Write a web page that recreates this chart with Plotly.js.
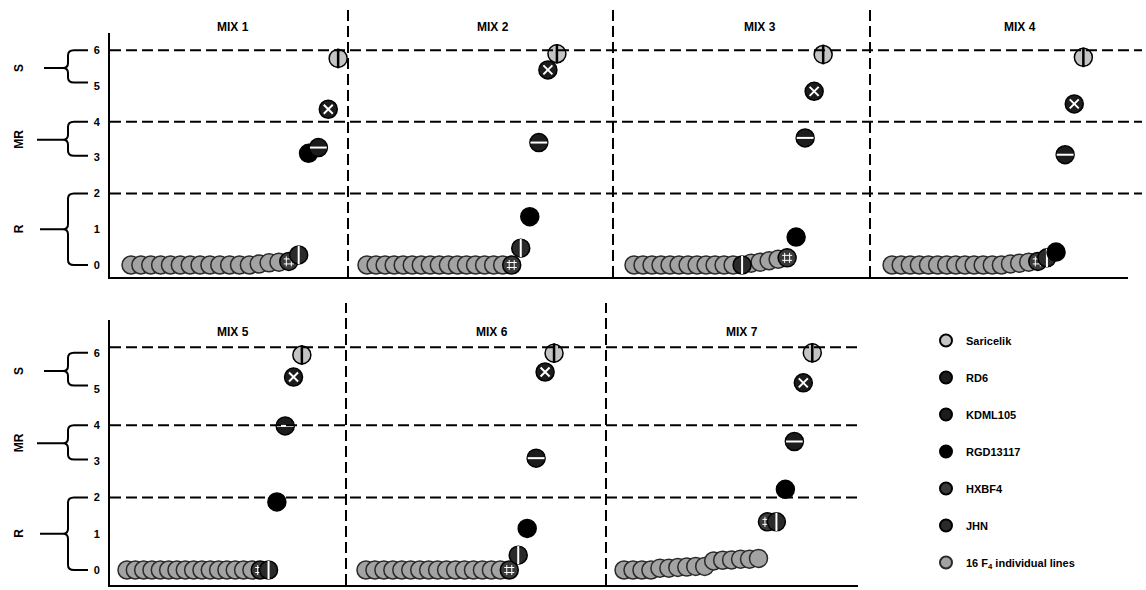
<!DOCTYPE html>
<html>
<head>
<meta charset="utf-8">
<script src="https://cdn.plot.ly/plotly-3.0.1.min.js"></script>
<style>html,body{margin:0;padding:0;background:#fff;}#chart{width:1146px;height:590px;}</style>
</head>
<body>
<div id="chart"></div>
<script>
// ---------------- DATA ----------------
const mixNames = ['MIX 1', 'MIX 2', 'MIX 3', 'MIX 4', 'MIX 5', 'MIX 6', 'MIX 7'];
const scoreTicks = [0, 1, 2, 3, 4, 5, 6];
const classNames = ['S', 'MR', 'R'];
const classLow = [5, 3, 0];
const classHigh = [6, 4, 2];

// disease scores of the parents in each mix
const saricelik = [5.77, 5.90, 5.88, 5.80, 5.94, 5.99, 6.00];
const rd6       = [4.35, 5.45, 4.85, 4.50, 5.33, 5.47, 5.17];
const kdml105   = [3.28, 3.42, 3.55, 3.08, 3.98, 3.09, 3.55];
const rgd13117  = [3.12, 1.35, 0.78, 0.36, 1.88, 1.15, 2.23];
const hxbf4     = [0.10, 0.00, 0.20, 0.10, 0.00, 0.00, 1.33];
const jhn       = [0.28, 0.47, 0.00, 0.20, 0.00, 0.41, 1.33];

// rank (position along x) of the parents in each mix
const rankSaricelik = [22, 22, 22, 22, 22, 22, 22];
const rankRd6       = [21, 21, 21, 21, 21, 21, 21];
const rankKdml105   = [20, 20, 20, 20, 20, 20, 20];
const rankRgd13117  = [19, 19, 19, 19, 19, 19, 19];
const rankHxbf4     = [17, 17, 18, 17, 17, 17, 17];
const rankJhn       = [18, 18, 13, 18, 18, 18, 18];

// scores of the 16 F4 individual lines in each mix (sorted)
const f4Mix1 = [0,0,0,0,0,0,0,0,0,0,0,0,0,0.03,0.06,0.08];
const f4Mix2 = [0,0,0,0,0,0,0,0,0,0,0,0,0,0,0,0];
const f4Mix3 = [0,0,0,0,0,0,0,0,0,0,0,0,0.05,0.08,0.12,0.16];
const f4Mix4 = [0,0,0,0,0,0,0,0,0,0,0,0,0,0.03,0.05,0.08];
const f4Mix5 = [0,0,0,0,0,0,0,0,0,0,0,0,0,0,0,0];
const f4Mix6 = [0,0,0,0,0,0,0,0,0,0,0,0,0,0,0,0];
const f4Mix7 = [0,0,0,0,0.05,0.05,0.07,0.08,0.10,0.10,0.25,0.27,0.28,0.30,0.30,0.32];
const f4Scores = [f4Mix1, f4Mix2, f4Mix3, f4Mix4, f4Mix5, f4Mix6, f4Mix7];

// ---------------- LAYOUT GEOMETRY ----------------
const W = 1146, H = 590;
const M = {l: 110, r: 18, t: 5, b: 5};
const PW = W - M.l - M.r, PH = H - M.t - M.b;
const px = x => (x - M.l) / PW;
const py = y => (H - M.b - y) / PH;

const panelPx = [[110,348],[348,613],[613,870],[870,1128],[110,346],[346,606],[606,858]];
const panelRange = [[-1.13,23.0],[-1.1,28.2],[-1.33,27.2],[-1.42,26.9],[-1.04,27.3],[-1.23,27.8],[-1.01,27.1]];
const titlePx = [[233,27],[493,27],[760,27],[1020,27],[233,332],[492,332],[742,332]];
const rowY = [{top:33,bot:277,range:[-0.335,6.48],divTop:6,gridTop:6,lineEnd:1142,rowEnd:1128},
              {top:320,bot:585,range:[-0.414,6.906],divTop:303,gridTop:6.15,lineEnd:862,rowEnd:858}];

const FONT = 'Liberation Sans, Arial, sans-serif';
const LINE = '#000';

const series = [
  {name:'<b>16 F<sub>4</sub> individual lines</b>', key:'f4', fill:'#a3a3a3', lc:'#2a2a2a', rank:7, ov:null},
  {name:'<b>HXBF4</b>', key:'hx', vals:hxbf4, ranks:rankHxbf4, fill:'#3a3a3a', lc:'#000', rank:5, ov:{symbol:'hash-open', color:'#fff', size:10, width:1}},
  {name:'<b>JHN</b>', key:'jhn', vals:jhn, ranks:rankJhn, fill:'#2a2a2a', lc:'#000', rank:6, ov:{symbol:'line-ns-open', color:'#fff', size:13, width:2}},
  {name:'<b>RGD13117</b>', key:'rgd', vals:rgd13117, ranks:rankRgd13117, fill:'#000', lc:'#000', rank:4, ov:null},
  {name:'<b>KDML105</b>', key:'kd', vals:kdml105, ranks:rankKdml105, fill:'#1c1c1c', lc:'#000', rank:3, ov:{symbol:'line-ew-open', color:'#fff', size:12, width:2}},
  {name:'<b>RD6</b>', key:'rd6', vals:rd6, ranks:rankRd6, fill:'#1c1c1c', lc:'#000', rank:2, ov:{symbol:'x-thin-open', color:'#fff', size:9, width:2}},
  {name:'<b>Saricelik</b>', key:'sar', vals:saricelik, ranks:rankSaricelik, fill:'#c4c4c4', lc:'#000', rank:1, ov:{symbol:'line-ns-open', color:'#000', size:14, width:2.5}}
];

const traces = [];
mixNames.forEach((mix, i) => {
  const xa = i === 0 ? 'x' : 'x' + (i + 1);
  const ya = i < 4 ? 'y' : 'y2';
  // ranks used by parents
  const used = series.filter(s => s.vals).map(s => s.ranks[i]);
  const free = [];
  for (let r = 1; r <= 22; r++) if (!used.includes(r)) free.push(r);
  series.forEach(s => {
    let xs, ys;
    if (s.key === 'f4') { xs = free.slice(0, f4Scores[i].length); ys = f4Scores[i]; }
    else { xs = [s.ranks[i]]; ys = [s.vals[i]]; }
    traces.push({
      type:'scatter', mode:'markers', x:xs, y:ys, xaxis:xa, yaxis:ya,
      name:s.name, legendgroup:s.key, showlegend:i === 0, legendrank:s.rank,
      cliponaxis:false, hoverinfo:'x+y',
      marker:{symbol:'circle', size:18, color:s.fill, line:{color:s.lc, width:1.5}}
    });
    if (s.ov) {
      traces.push({
        type:'scatter', mode:'markers', x:xs, y:ys, xaxis:xa, yaxis:ya,
        legendgroup:s.key, showlegend:false, cliponaxis:false, hoverinfo:'skip',
        marker:{symbol:s.ov.symbol, size:s.ov.size, color:s.ov.color, line:{color:s.ov.color, width:s.ov.width}}
      });
    }
  });
});

const layout = {
  width:W, height:H, margin:M, paper_bgcolor:'#fff', plot_bgcolor:'rgba(0,0,0,0)',
  font:{family:FONT, color:'#000', size:11},
  showlegend:true,
  legend:{x:px(926), y:py(326), xanchor:'left', yanchor:'top', bgcolor:'rgba(0,0,0,0)',
          font:{family:FONT, size:11, color:'#000'}, tracegroupgap:18, itemsizing:'constant'},
  shapes:[], annotations:[]
};

// y axes
[0,1].forEach(r => {
  const R = rowY[r];
  const key = r === 0 ? 'yaxis' : 'yaxis2';
  layout[key] = {
    domain:[py(R.bot), py(R.top)], range:R.range, anchor: r === 0 ? 'x' : 'x5',
    showgrid:false, zeroline:false, showline:true, linecolor:LINE, linewidth:2,
    tickvals:scoreTicks, ticktext:scoreTicks.map(v => '<b>' + v + '</b>'),
    ticks:'', ticklabelstandoff:6, tickfont:{family:FONT, size:11, color:'#000'}
  };
});

// x axes
mixNames.forEach((mix, i) => {
  const key = i === 0 ? 'xaxis' : 'xaxis' + (i + 1);
  const p = panelPx[i];
  layout[key] = {
    domain:[px(p[0]), px(p[1])], range:panelRange[i], anchor: i < 4 ? 'y' : 'y2',
    showgrid:false, zeroline:false, showline:true, linecolor:LINE, linewidth:2,
    showticklabels:false, ticks:''
  };
  layout.annotations.push({
    text:'<b>' + mix + '</b>', xref:'paper', yref:'paper', x:px(titlePx[i][0]), y:py(titlePx[i][1]),
    showarrow:false, font:{family:FONT, size:12, color:'#000'}, xanchor:'center', yanchor:'middle'
  });
});

const DASH = '11px,5px';
// vertical dividers
[[348,0],[613,0],[870,0],[346,1],[606,1]].forEach(([x, r]) => {
  const R = rowY[r];
  layout.shapes.push({type:'line', xref:'paper', yref:'paper', x0:px(x), x1:px(x),
    y0:py(R.bot), y1:py(R.divTop), line:{color:LINE, width:2, dash:DASH}});
});

// horizontal class boundaries + braces
[0,1].forEach(r => {
  const R = rowY[r];
  const yref = r === 0 ? 'y' : 'y2';
  [2, 4, R.gridTop].forEach(v => {
    layout.shapes.push({type:'line', xref:'paper', yref:yref, x0:px(110), x1:px(R.lineEnd),
      y0:v, y1:v, line:{color:LINE, width:2, dash:DASH}});
  });
  const unit = (R.bot - R.top) / (R.range[1] - R.range[0]); // px per unit
  const dy = 5 / unit;
  const xr = px(88), xv = px(68), xc = px(63), xt = [px(44), px(37), px(40)];
  classNames.forEach((c, k) => {
    const lo = classLow[k] + (k === 0 ? 0.1 : (k === 1 ? 0.05 : 0));
    const hi = classHigh[k];
    const mid = (classLow[k] + classHigh[k]) / 2;
    const path = `M ${xr},${hi} L ${xv + (xr - xv) * 0.3},${hi} Q ${xv},${hi} ${xv},${hi - dy} ` +
      `L ${xv},${mid + dy} Q ${xv},${mid} ${xc},${mid} L ${xt[k]},${mid} ` +
      `M ${xc},${mid} Q ${xv},${mid} ${xv},${mid - dy} L ${xv},${lo + dy} ` +
      `Q ${xv},${lo} ${xv + (xr - xv) * 0.3},${lo} L ${xr},${lo}`;
    layout.shapes.push({type:'path', xref:'paper', yref:yref, path:path, line:{color:LINE, width:2}});
    layout.annotations.push({text:'<b>' + c + '</b>', xref:'paper', yref:yref, x:px(19), y:mid,
      textangle:-90, showarrow:false, font:{family:FONT, size:12, color:'#000'}, xanchor:'center', yanchor:'middle'});
  });
});

Plotly.newPlot('chart', traces, layout, {displayModeBar:false, staticPlot:true});
</script>
</body>
</html>
